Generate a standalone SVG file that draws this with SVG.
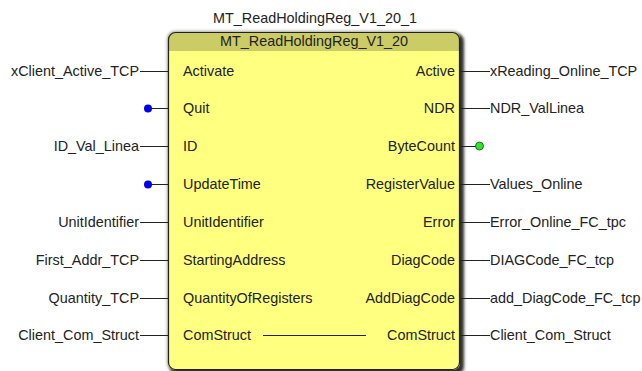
<svg xmlns="http://www.w3.org/2000/svg" width="642" height="371" viewBox="0 0 642 371">
<defs>
<filter id="sh" x="-10%" y="-10%" width="120%" height="120%"><feGaussianBlur stdDeviation="1.8"/></filter>
<clipPath id="clip"><rect x="168" y="32" width="292" height="338" rx="7"/></clipPath>
</defs>
<style>
text{font-family:"Liberation Sans",Arial,sans-serif;font-size:14.4px;fill:#222}
.r{text-anchor:end}
.m{text-anchor:middle}
.w{stroke:#222;stroke-width:1;fill:none}
</style>
<rect width="642" height="371" fill="#fff"/>
<text class="m" x="315" y="23">MT_ReadHoldingReg_V1_20_1</text>
<g id="block">
<rect x="167" y="31" width="294" height="340" rx="8" fill="#aaa" filter="url(#sh)"/>
<rect x="170" y="34" width="294" height="340" rx="7" fill="#333" filter="url(#sh)"/>
<rect x="168" y="32" width="292" height="338" rx="7" fill="#ffff80"/>
<rect x="168" y="32" width="292" height="19" fill="#cccc66" clip-path="url(#clip)"/>
<rect x="168.5" y="32.5" width="291" height="337" rx="7" fill="none" stroke="#222" stroke-width="1.2"/>
<text class="m" x="314" y="46">MT_ReadHoldingReg_V1_20</text>
<text x="183" y="76">Activate</text>
<text x="183" y="113">Quit</text>
<text x="183" y="151">ID</text>
<text x="183" y="189">UpdateTime</text>
<text x="183" y="227">UnitIdentifier</text>
<text x="183" y="265">StartingAddress</text>
<text x="183" y="303">QuantityOfRegisters</text>
<text x="183" y="340">ComStruct</text>
<text class="r" x="455" y="76">Active</text>
<text class="r" x="455" y="113">NDR</text>
<text class="r" x="455" y="151">ByteCount</text>
<text class="r" x="455" y="189">RegisterValue</text>
<text class="r" x="455" y="227">Error</text>
<text class="r" x="455" y="265">DiagCode</text>
<text class="r" x="455" y="303">AddDiagCode</text>
<text class="r" x="455" y="340">ComStruct</text>
</g>
<g id="connectors">
<path class="w" d="M140 71.5H168M140 146.5H168M140 222.5H168M140 260.5H168M140 298.5H168M140 335.5H168M148 108.5H168M148 184.5H168"/>
<path class="w" d="M460 71.5H490M460 108.5H490M460 146.5H478M460 184.5H490M460 222.5H490M460 260.5H490M460 298.5H490M460 335.5H490"/>
<path class="w" d="M263 335.5H366"/>
</g>
<g id="inputs">
<text class="r" x="139" y="76">xClient_Active_TCP</text>
<text class="r" x="139" y="151">ID_Val_Linea</text>
<text class="r" x="139" y="227">UnitIdentifier</text>
<text class="r" x="139" y="265">First_Addr_TCP</text>
<text class="r" x="139" y="303">Quantity_TCP</text>
<text class="r" x="139" y="340">Client_Com_Struct</text>
<circle cx="148" cy="108.5" r="4" fill="#0000ee"/>
<circle cx="148" cy="184.5" r="4" fill="#0000ee"/>
</g>
<g id="outputs">
<text x="490" y="76">xReading_Online_TCP</text>
<text x="490" y="113">NDR_ValLinea</text>
<text x="490" y="189">Values_Online</text>
<text x="490" y="227">Error_Online_FC_tpc</text>
<text x="490" y="265">DIAGCode_FC_tcp</text>
<text x="490" y="303">add_DiagCode_FC_tcp</text>
<text x="490" y="340">Client_Com_Struct</text>
<circle cx="479.5" cy="146" r="4" fill="#22ee22" stroke="#333" stroke-width="0.8"/>
</g>
</svg>
